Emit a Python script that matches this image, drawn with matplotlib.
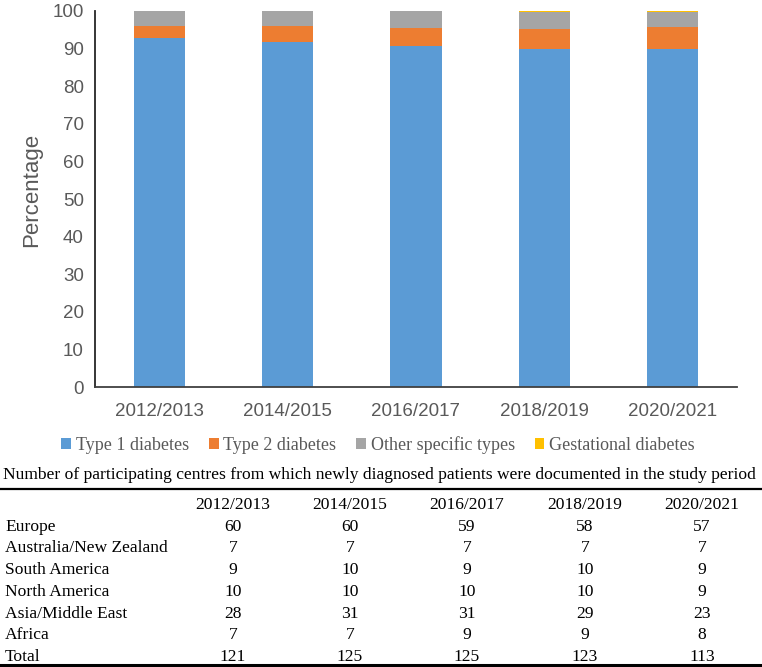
import matplotlib
matplotlib.use("Agg")
import matplotlib.pyplot as plt
from matplotlib.patches import Patch
from matplotlib.lines import Line2D
import numpy as np

# ---- data ----
periods = ["2012/2013", "2014/2015", "2016/2017", "2018/2019", "2020/2021"]
type1 = [92.8, 91.7, 90.5, 89.7, 89.7]
type2 = [3.2, 4.3, 5.0, 5.4, 6.1]
other = [4.0, 4.0, 4.5, 4.5, 3.8]
gestational = [0.0, 0.0, 0.0, 0.4, 0.4]
series_names = ["Type 1 diabetes", "Type 2 diabetes", "Other specific types", "Gestational diabetes"]
colors = ["#5B9BD5", "#ED7D31", "#A5A5A5", "#FFC000"]

table_title = ("Number of participating centres from which newly diagnosed patients "
               "were documented in the study period")
regions = ["Europe", "Australia/New Zealand", "South America", "North America",
           "Asia/Middle East", "Africa", "Total"]
europe = [60, 60, 59, 58, 57]
aus_nz = [7, 7, 7, 7, 7]
south_america = [9, 10, 9, 10, 9]
north_america = [10, 10, 10, 10, 9]
asia_me = [28, 31, 31, 29, 23]
africa = [7, 7, 9, 9, 8]
total = [121, 125, 125, 123, 113]
table_rows = [europe, aus_nz, south_america, north_america, asia_me, africa, total]

# ---- figure ----
W, H = 762, 667
fig = plt.figure(figsize=(W / 100, H / 100), dpi=100)

def fx(px):
    return px / W

def fy(py):
    return 1 - py / H

ax = fig.add_axes([fx(95), fy(387.3), fx(737) - fx(95), fy(10.7) - fy(387.3)])
x = np.arange(len(periods))
bw = 0.4
bottom = np.zeros(len(periods))
for vals, col, name in zip([type1, type2, other, gestational], colors, series_names):
    ax.bar(x, vals, bw, bottom=bottom, color=col, label=name, linewidth=0)
    bottom += np.array(vals)

ax.set_xlim(-0.5, len(periods) - 0.5)
ax.set_ylim(0, 100)
ax.set_yticks(np.arange(0, 101, 10))
ax.set_xticks(x)
ax.set_xticklabels(periods)
sans = ["Liberation Sans", "DejaVu Sans"]
for lab in ax.get_xticklabels() + ax.get_yticklabels():
    lab.set_fontfamily(sans)
    lab.set_fontsize(13.5)
    lab.set_color("#595959")
ax.tick_params(axis="both", length=0)
ax.tick_params(axis="y", pad=8)
ax.tick_params(axis="x", pad=11)
ax.set_ylabel("Percentage", fontsize=16, color="#595959", family=sans, va="center")
ax.yaxis.set_label_coords(-0.098, 0.524)
for s in ["top", "right"]:
    ax.spines[s].set_visible(False)
ax.spines["left"].set_color("#262626")
ax.spines["left"].set_linewidth(1.3)
ax.spines["bottom"].set_color("#404040")
ax.spines["bottom"].set_linewidth(1.3)

serif = ["Liberation Serif", "DejaVu Serif"]
handles = [Patch(facecolor=c, edgecolor="none") for c in colors]
leg = fig.legend(handles, series_names, loc="center", ncol=4,
                 bbox_to_anchor=(fx(378), fy(445)), frameon=False,
                 prop={"family": serif, "size": 13},
                 handlelength=0.55, handleheight=0.55, handletextpad=0.25,
                 columnspacing=1.1, borderaxespad=0)
for t in leg.get_texts():
    t.set_color("#595959")

# ---- table ----
tsize = 12.6
fig.text(fx(3), fy(475), table_title, ha="left", va="center", family=serif,
         fontsize=tsize, color="black")
fig.add_artist(Line2D([0, 1], [fy(489), fy(489)], color="black", linewidth=1.6,
                      transform=fig.transFigure))
col_x = [233, 350, 467, 585, 702]
header_y = 505
row_step = 21.7
for cx, p in zip(col_x, periods):
    fig.text(fx(cx), fy(header_y), p, ha="center", va="center", family=serif,
             fontsize=tsize)
for i, (reg, vals) in enumerate(zip(regions, table_rows)):
    yy = header_y + row_step * (i + 1)
    fig.text(fx(5), fy(yy), reg, ha="left", va="center", family=serif, fontsize=tsize)
    for cx, v in zip(col_x, vals):
        fig.text(fx(cx), fy(yy), str(v), ha="center", va="center", family=serif,
                 fontsize=tsize)
fig.add_artist(Line2D([0, 1], [fy(664.5), fy(664.5)], color="black", linewidth=2.2,
                      transform=fig.transFigure))

fig.savefig("out.png", dpi=100)
